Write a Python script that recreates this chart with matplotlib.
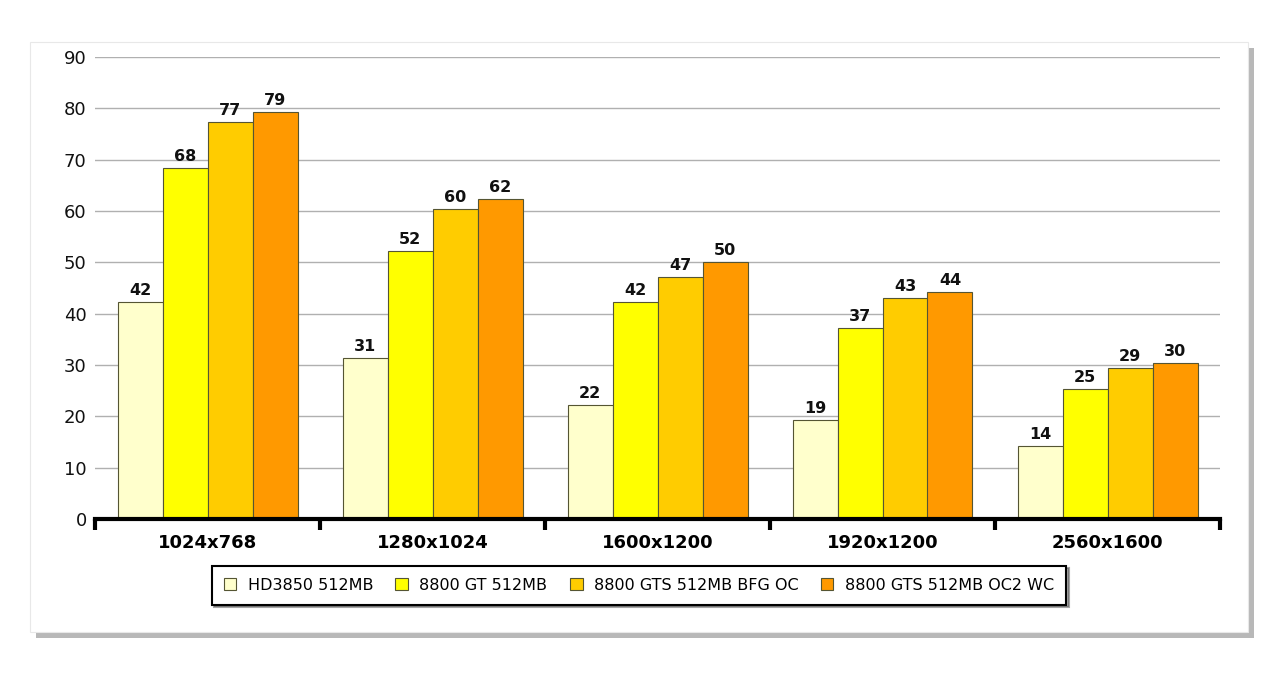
import numpy as np
import matplotlib.pyplot as plt
from matplotlib.patches import Rectangle

resolutions = ["1024x768", "1280x1024", "1600x1200", "1920x1200", "2560x1600"]
series = ["HD3850 512MB", "8800 GT 512MB", "8800 GTS 512MB BFG OC", "8800 GTS 512MB OC2 WC"]
hd3850 = [42.3, 31.4, 22.2, 19.3, 14.2]
gt8800 = [68.4, 52.2, 42.3, 37.2, 25.3]
gts_bfg = [77.3, 60.4, 47.1, 43.1, 29.4]
gts_oc2 = [79.3, 62.3, 50.1, 44.2, 30.4]
colors = ["#FFFFCC", "#FFFF00", "#FFCC00", "#FF9900"]

fig = plt.figure(figsize=(12.8, 6.74), dpi=100)

# white panel with drop shadow
fig.patches.append(Rectangle((36 / 1280, 1 - 638 / 674), 1218 / 1280, 590 / 674,
                             transform=fig.transFigure, facecolor="#8a8a8a",
                             edgecolor="none", alpha=0.6, zorder=-2))
fig.patches.append(Rectangle((30 / 1280, 1 - 632 / 674), 1218 / 1280, 590 / 674,
                             transform=fig.transFigure, facecolor="white",
                             edgecolor="#e8e8e8", linewidth=0.8, zorder=-1))

ax = fig.add_axes([95 / 1280, 1 - 519 / 674, 1125 / 1280, 462 / 674])
ax.patch.set_alpha(0)
ax.set_zorder(1)

x = np.arange(len(resolutions))
w = 0.2
data = [hd3850, gt8800, gts_bfg, gts_oc2]
for i, (vals, name, col) in enumerate(zip(data, series, colors)):
    pos = x + (i - 1.5) * w
    ax.bar(pos, vals, w, color=col, edgecolor="#555533", linewidth=0.8,
           label=name, zorder=2)
    for p, v in zip(pos, vals):
        ax.text(p, v + 0.8, str(int(v)), ha="center", va="bottom",
                fontsize=11.5, fontweight="bold", color="#111111")

ax.set_xlim(-0.5, len(resolutions) - 0.5)
ax.set_ylim(0, 90)
ax.set_yticks(np.arange(0, 91, 10))
ax.yaxis.grid(True, color="#b0b0b0", linewidth=1)
ax.set_axisbelow(True)
for s in ["top", "right", "left"]:
    ax.spines[s].set_visible(False)
ax.spines["bottom"].set_linewidth(3)
ax.spines["bottom"].set_color("black")
ax.tick_params(axis="y", length=0, labelsize=13, pad=6, labelcolor="#111111")

ax.set_xticks(x)
ax.set_xticklabels(resolutions, fontsize=13, fontweight="bold")
ax.tick_params(axis="x", length=0, pad=11)
ax.set_xticks(np.arange(-0.5, len(resolutions)), minor=True)
ax.tick_params(axis="x", which="minor", length=8, width=3, direction="out", color="black")

leg = fig.legend(loc="center", bbox_to_anchor=(0.499, 0.132), ncol=4,
                 fontsize=11.5, frameon=True, fancybox=False, shadow=True,
                 handlelength=0.8, handleheight=0.8, handletextpad=0.7,
                 columnspacing=1.4, borderpad=0.75)
leg.get_frame().set_edgecolor("black")
leg.get_frame().set_linewidth(1.5)
leg.set_zorder(2)

fig.savefig("out.png", dpi=100)
